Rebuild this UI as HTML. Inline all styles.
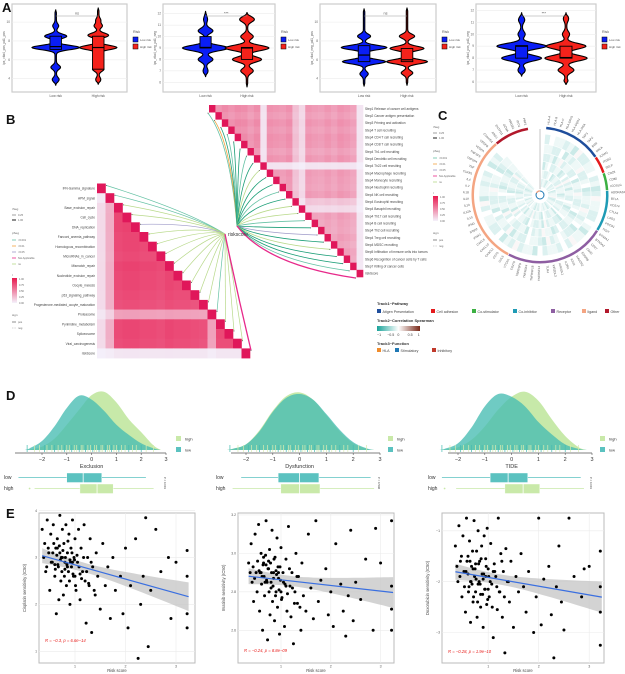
<!DOCTYPE html>
<html><head><meta charset="utf-8">
<style>
html,body{margin:0;padding:0;background:#fff;}
svg{display:block;font-family:"Liberation Sans",sans-serif;}
</style></head>
<body>
<svg id="fig" width="625" height="674" viewBox="0 0 625 674" xmlns="http://www.w3.org/2000/svg"></svg>
<script>
// ===================== DATA =====================
// Panel A
const aTitles = ["ips_ctla4_pos_pd1_pos","ips_ctla4_neg_pd1_neg","ips_ctla4_neg_pd1_pos","ips_ctla4_pos_pd1_neg"];
const aSig = ["ns","***","ns","***"];
const aDomains = [[3,11.5],[5.5,12.5],[3,11.5],[5.5,12.2]];
const aTicks = [[4,6,8,10],[6,7,8,9,10,11,12],[4,6,8,10],[6,7,8,9,10,11,12]];
const aLowRange = [[3.3,11.3],[6.5,12.2],[3.2,11.4],[6.5,11.8]];
const aHighRange = [[3.4,11.5],[5.6,12.1],[3.3,11.5],[5.8,11.8]];
const aLowPeaks = [
 [[3.9,.12],[5.2,.18],[7.3,1.0],[8.5,.45],[9.6,.1]],
 [[7.0,.08],[8.0,.3],[9.0,1.0],[10.5,.3],[11.5,.06]],
 [[4.5,.15],[5.8,.9],[7.3,.95],[8.5,.25]],
 [[7.0,.12],[8.0,.8],[9.0,1.0],[10.0,.12],[11.2,.1]]];
const aHighPeaks = [
 [[3.9,.08],[5.0,.22],[7.3,.78],[8.6,.42],[9.6,.15],[10.2,.08]],
 [[7.0,.25],[8.0,.62],[9.0,.95],[10.0,.25],[11.5,.3]],
 [[4.6,.22],[5.8,.85],[7.2,.7],[8.5,.3]],
 [[6.0,.06],[7.0,.3],[8.0,.85],[9.0,.8],[10.0,.12],[11.3,.08]]];
const aLowBox = [[7.1,7.4,8.5],[9.0,9.05,10.0],[5.8,6.5,7.5],[8.0,9.0,9.05]];
const aHighBox = [[5.0,7.3,8.5],[8.0,9.0,9.05],[5.8,6.0,7.2],[8.0,8.05,9.0]];

// Panel B
const upperLabels = ["Step1 Release of cancer cell antigens","Step2 Cancer antigen presentation","Step3 Priming and activation","Step4 T cell recruiting","Step4 CD4 T cell recruiting","Step4 CD8 T cell recruiting","Step4 Th1 cell recruiting","Step4 Dendritic cell recruiting","Step4 Th22 cell recruiting","Step4 Macrophage recruiting","Step4 Monocyte recruiting","Step4 Neutrophil recruiting","Step4 NK cell recruiting","Step4 Eosinophil recruiting","Step4 Basophil recruiting","Step4 Th17 cell recruiting","Step4 B cell recruiting","Step4 Th2 cell recruiting","Step4 Treg cell recruiting","Step4 MDSC recruiting","Step5 Infiltration of immune cells into tumors","Step6 Recognition of cancer cells by T cells","Step7 Killing of cancer cells","riskScore"];
const upperBase = [.68,.62,.7,.64,.7,.68,.6,.68,.1,.65,.62,.6,.66,.34,.18,.62,.58,.56,.62,.56,.64,.6,.54,.08];
const upperLineColors = ["#66c2a5","#f1a340","#1b9e77","#66c2a5","#1b9e77","#1b9e77","#66c2a5","#1b9e77","#b8d98a","#1b9e77","#1b9e77","#66c2a5","#1b9e77","#b8d98a","#b8d98a","#66c2a5","#1b9e77","#9e9ac8","#1b9e77","#b8d98a","#1b9e77","#1b9e77","#66c2a5","#e7298a"];
const lowerLabels = ["IFN-Gamma_signature","APM_signal","Base_excision_repair","Cell_cycle","DNA_replication","Fanconi_anemia_pathway","Homologous_recombination","MicroRNAs_in_cancer","Mismatch_repair","Nucleotide_excision_repair","Oocyte_meiosis","p53_signaling_pathway","Progesterone-mediated_oocyte_maturation","Proteasome","Pyrimidine_metabolism","Spliceosome","Viral_carcinogenesis","riskScore"];
const lowerBase = [.12,.35,.88,.9,.9,.88,.88,.86,.9,.88,.88,.86,.84,.42,.88,.88,.86,.06];
const lowerLineColors = ["#66c2a5","#66c2a5","#b8d98a","#b8d98a","#9e9ac8","#b8d98a","#b8d98a","#b8d98a","#b8d98a","#b8d98a","#b8d98a","#b8d98a","#b8d98a","#66c2a5","#b8d98a","#b8d98a","#b8d98a","#e7298a"];

// Panel C
const cCategories = ["Atigen Presentation","Cell adhesion","Co-stimulator","Co-inhibitor","Receptor","ligand","Other"];
const cCatColors = ["#1f4e9c","#e41a1c","#3cb043","#1f9bb5","#8e5ea2","#f4a582","#b2182b"];
const cGenes = [
 ["HLA-A","HLA-B","HLA-C","HLA-DPA1","HLA-DQA1","HLA-DRA","TAP1","TAP2","B2M","MICA"],
 ["ICAM1","ITGB2","SELP"],
 ["CD28","CD80","ICOSLG"],
 ["ADORA2A","BTLA","CD274","CTLA4","LAG3","PDCD1","TIGIT"],
 ["BTN3A1","BTN3A2","CD27","CD40","EDNRB","HAVCR2","ICOS","IL2RA","KIR2DL1","KIR2DL3","TLR4","TNFRSF14","TNFRSF18","TNFRSF4","TNFRSF9","CD276","VTCN1"],
 ["CCL5","CD70","CX3CL1","CXCL10","CXCL9","IFNA1","IFNA2","IFNG","IL10","IL12A","IL13","IL1A","IL1B","IL2","IL4","TGFB1","TNF","TNFSF4","TNFSF9","VEGFA","VEGFB","C10orf54"],
 ["ARG1","ENTPD1","GZMA","HMGB1","IDO1","PRF1"]];
const cRings = [
 "34432445334352344463234435432443445334234453634424533443234434",
 "43345234433634442345334435244334523443634424353445344234334534",
 "24533442353634244335423445233443624334523445362443345234433634",
 "33424634433524436433452344335324463435244334536244335423443244",
 "44335243446334523443643452334543623445334263443524334634452344",
 "35443426334453423644335424463534435244363425334453624434352435"];

// Panel D
const dTitles = ["Exclusion","Dysfunction","TIDE"];
const dPvals = ["P < 0.001","P = 0.548","P < 0.001"];
const dGrid = [-2.7,-2.5,-2,-1.5,-1,-0.5,0,0.5,1,1.5,2,2.5,2.8];
const dLowDens = [[0,.03,.16,.42,.75,.97,.9,.7,.45,.27,.12,.03,0],[0,.02,.1,.33,.68,.93,1.0,.9,.64,.36,.14,.03,0],[0,.02,.12,.4,.78,1.0,.95,.78,.5,.28,.1,.02,0]];
const dHighDens = [[0,.01,.06,.2,.45,.72,.98,1.04,.85,.55,.32,.08,0],[0,.02,.1,.35,.7,.96,1.03,.9,.62,.33,.12,.02,0],[0,.01,.05,.18,.42,.72,.95,1.04,.88,.55,.25,.05,0]];
const dLowBox = [[-2.95,-1.0,-0.34,0.41,2.19],[-2.18,-0.8,0,0.72,2.65],[-2.6,-0.8,-0.13,0.6,2.58]];
const dHighBox = [[-2.3,-0.47,0.22,0.87,2.5],[-2.5,-0.7,0,0.76,2.78],[-2.07,-0.25,0.43,1.05,2.7]];
const dHighOutlier = [-2.5,null,-2.5];
const dRug = [-2.6,-2.3,-2.1,-1.9,-1.8,-1.6,-1.5,-1.35,-1.2,-1.1,-1.0,-0.9,-0.8,-0.7,-0.6,-0.5,-0.42,-0.35,-0.25,-0.15,-0.05,0.05,0.12,0.2,0.3,0.38,0.45,0.55,0.65,0.72,0.8,0.9,1.0,1.1,1.2,1.35,1.5,1.65,1.8,2.0,2.2,2.5];
const dTicks = [-2,-1,0,1,2,3];

// Panel E
const riskScores = [0.35,0.4,0.42,0.45,0.48,0.5,0.52,0.55,0.57,0.6,0.62,0.63,0.65,0.67,0.7,0.72,0.73,0.75,0.77,0.78,0.8,0.82,0.83,0.85,0.87,0.88,0.9,0.92,0.93,0.95,0.97,0.98,1.0,1.02,1.05,1.07,1.1,1.12,1.15,1.18,1.2,1.22,1.25,1.28,1.3,1.33,1.35,1.4,1.42,1.45,1.5,1.55,1.6,1.65,1.7,1.75,1.8,1.9,1.95,2.0,2.05,2.1,2.2,2.25,2.3,2.35,2.4,2.45,2.5,2.6,2.7,2.85,2.9,3.0,3.22,3.22,3.22,3.22,0.58,0.68,
 0.38,0.44,0.47,0.53,0.56,0.61,0.64,0.66,0.69,0.71,0.74,0.76,0.79,0.81,0.84,0.86,0.89,0.91,0.94,0.96,0.99,1.01,1.04,1.08,1.13,1.17,1.23,1.27,1.32,1.38,0.6,0.7,0.8,0.9,1.0,0.75,0.85,0.95,0.65,1.1];
const cisplatin = [3.6,3.3,2.7,3.8,3.1,2.3,3.5,2.9,3.7,2.6,3.2,1.8,3.4,2.8,3.9,2.5,3.0,3.6,2.2,3.3,2.9,3.7,2.4,3.1,2.7,3.5,2.0,3.2,2.8,3.8,2.6,3.0,3.4,2.3,2.9,3.6,2.1,3.2,2.7,3.7,2.5,1.6,3.0,2.4,3.4,1.4,2.8,2.2,3.1,2.6,1.9,3.3,2.4,2.8,1.7,3.0,2.3,2.6,1.8,3.2,1.5,2.4,3.4,0.85,2.0,2.6,3.85,1.1,2.3,3.6,2.7,3.0,1.7,2.9,3.15,2.6,1.8,1.5,3.3,2.1,
 3.0,2.8,3.2,2.9,3.1,2.75,3.05,2.85,3.25,2.95,2.7,3.15,2.6,3.0,2.85,3.35,2.5,2.9,3.1,2.65,2.95,2.4,3.05,2.8,2.55,3.0,2.7,2.45,2.9,2.3,2.85,3.1,2.75,2.95,2.6,3.0,2.8,2.9,3.2,2.65];
const imatinib = [2.95,3.05,2.85,2.75,3.1,2.9,2.8,3.15,2.7,3.0,2.88,2.6,2.95,2.78,3.17,2.85,2.55,2.92,3.02,2.68,2.82,3.12,2.75,2.9,2.65,2.98,2.8,3.08,2.72,2.87,2.58,2.93,3.03,2.77,2.85,2.62,2.97,2.7,3.14,2.83,2.67,2.9,2.53,2.8,3.0,2.74,2.88,2.6,2.95,2.78,2.7,3.1,2.82,2.66,3.17,2.75,2.86,2.92,2.68,2.8,2.62,3.05,2.84,2.7,2.57,2.78,3.12,2.65,2.85,2.76,2.97,2.6,3.13,2.95,3.17,2.83,2.71,2.6,2.9,2.85,
 2.9,2.93,2.87,2.96,2.91,2.84,2.94,2.88,2.99,2.86,2.92,2.8,2.95,2.9,2.83,2.97,2.78,2.89,2.93,2.81,2.86,2.76,2.9,2.84,2.79,2.92,2.82,2.74,2.88,2.72,2.9,2.94,2.85,2.91,2.8,2.96,2.87,2.9,2.98,2.83];
const doxorubicin = [-1.3,-2.0,-0.9,-1.6,-2.3,-1.1,-1.8,-2.6,-0.75,-1.5,-2.1,-1.2,-2.8,-1.7,-2.4,-0.8,-1.9,-2.2,-1.4,-2.7,-1.0,-2.0,-1.6,-2.5,-1.3,-1.85,-2.9,-1.1,-2.15,-1.55,-2.45,-0.95,-1.75,-2.3,-1.25,-2.05,-3.1,-1.65,-1.9,-2.55,-0.75,-2.2,-1.45,-2.7,-1.8,-3.4,-1.35,-2.0,-2.4,-1.6,-2.9,-1.9,-2.2,-1.45,-2.1,-2.6,-1.8,-3.0,-2.3,-0.75,-2.85,-1.95,-1.7,-2.65,-3.5,-2.1,-1.3,-2.4,-2.95,-0.75,-1.9,-2.3,-1.75,-1.7,-1.4,-2.1,-2.6,-3.25,-1.6,-2.05,
 -1.7,-1.9,-1.5,-2.1,-1.8,-2.2,-1.6,-2.0,-1.4,-2.3,-1.75,-1.95,-2.4,-1.65,-2.05,-1.55,-2.25,-1.85,-2.15,-1.7,-2.35,-1.9,-2.0,-2.5,-1.8,-2.1,-2.2,-1.6,-2.3,-2.0,-1.85,-1.75,-2.05,-1.95,-2.15,-1.65,-2.25,-1.9,-2.0,-1.8];
const eYTitles = ["Cisplatin sensitivity (IC50)","Imatinib sensitivity (IC50)","Doxorubicin sensitivity (IC50)"];
const eStats = ["R = \u22120.3, p = 6.6e\u221214","R = \u22120.24, p = 8.8e\u221209","R = \u22120.28, p = 1.9e\u221210"];
const eDomains = [[0.75,3.95],[2.43,3.21],[-3.6,-0.65]];
const eYTicks = [[1,2,3,4],[2.6,2.8,3.0,3.2],[-3,-2,-1]];
const eXTicks = [1,2,3];

// ===================== DRAW =====================
const NS="http://www.w3.org/2000/svg";
const svg=document.getElementById('fig');
function el(tag,attrs,parent){const e=document.createElementNS(NS,tag);for(const k in attrs)e.setAttribute(k,attrs[k]);(parent||svg).appendChild(e);return e;}
function txt(s,x,y,size,parent,extra){const t=el('text',Object.assign({x:x,y:y,'font-size':size,fill:'#333'},extra||{}),parent);t.textContent=s;return t;}
function grp(parent){return el('g',{},parent);}
function catmull(pts){let d='M'+pts[0][0]+','+pts[0][1];for(let i=0;i<pts.length-1;i++){const p0=pts[i-1]||pts[i],p1=pts[i],p2=pts[i+1],p3=pts[i+2]||p2;
 d+=' C'+(p1[0]+(p2[0]-p0[0])/6)+','+(p1[1]+(p2[1]-p0[1])/6)+' '+(p2[0]-(p3[0]-p1[0])/6)+','+(p2[1]-(p3[1]-p1[1])/6)+' '+p2[0]+','+p2[1];}return d;}

// panel letters
[["A",2,12],["B",6,124],["C",438,120],["D",6,400],["E",6,518]].forEach(l=>{
 const t=txt(l[0],l[1],l[2],13,svg,{'font-weight':'bold',fill:'#111'});
 
 
});

// ---------- Panel A ----------
const aBoxes=[[12,127],[163,275],[320,436],[476,596]];
aBoxes.forEach((bx,p)=>{
 const g=grp();
 
 
 const x0=bx[0],x1=bx[1],W=x1-x0,yT=4,yB=92;
 const dom=aDomains[p];
 const ys=v=>yB-4-(v-dom[0])/(dom[1]-dom[0])*(yB-yT-8);
 el('rect',{x:x0,y:yT,width:W,height:yB-yT,fill:'#fff',stroke:'#ccc','stroke-width':1.2},g);
 aTicks[p].forEach(t=>{el('line',{x1:x0,x2:x1,y1:ys(t),y2:ys(t),stroke:'#ececec','stroke-width':0.6},g);
  txt(String(t),x0-2,ys(t)+1,3.2,g,{'text-anchor':'end',fill:'#666'});});
 const yt=txt(aTitles[p],x0-7,(yT+yB)/2,3.2,g,{'text-anchor':'middle',fill:'#555',transform:'rotate(-90 '+(x0-7)+' '+((yT+yB)/2)+')'});
 
 
 const cx=[x0+0.38*W,x0+0.75*W];
 const maxW=0.2*W;
 [[aLowPeaks[p],aLowRange[p],aLowBox[p],'#0a1ef5'],[aHighPeaks[p],aHighRange[p],aHighBox[p],'#f5221b']].forEach((d,k)=>{
  const peaks=d[0],rng=d[1],box=d[2],col=d[3];
  const L=[],R=[];
  for(let v=rng[0];v<=rng[1]+1e-6;v+=0.05){
   let w=0.03;peaks.forEach(pk=>{w+=pk[1]*Math.exp(-Math.pow((v-pk[0])/0.32,2));});
   const tap=Math.min(1,(v-rng[0])/0.3,(rng[1]-v)/0.3);w*=Math.max(0.05,tap);
   L.push([cx[k]-w*maxW,ys(v)]);R.push([cx[k]+w*maxW,ys(v)]);}
  const pts=L.concat(R.reverse());
  const vp=el('path',{d:'M'+pts.map(q=>q[0].toFixed(2)+','+q[1].toFixed(2)).join(' L')+'Z',fill:col,stroke:'#000','stroke-width':1.1},g);
  
  
  const bw=0.1*W;
  const br=el('rect',{x:cx[k]-bw/2,y:ys(box[2]),width:bw,height:Math.max(1,ys(box[0])-ys(box[2])),fill:col,stroke:'#000','stroke-width':0.9},g);
  
  
  el('line',{x1:cx[k]-bw/2,x2:cx[k]+bw/2,y1:ys(box[1]),y2:ys(box[1]),stroke:'#000','stroke-width':1.2},g);
  txt(k?'High risk':'Low risk',cx[k],97,3.4,g,{'text-anchor':'middle',fill:'#555'});
 });
 el('line',{x1:cx[0],x2:cx[1],y1:16,y2:16,stroke:'#999','stroke-width':0.6},g);
 const sg=txt(aSig[p],(cx[0]+cx[1])/2,14.5,3.8,g,{'text-anchor':'middle',fill:'#555'});
 
 
 const lg=grp(g);
 
 
 txt('Risk',x1+6,33,3.6,lg,{fill:'#555'});
 el('rect',{x:x1+6,y:37,width:5,height:5,fill:'#0a1ef5',stroke:'#000','stroke-width':0.5},lg);
 txt('Low risk',x1+13,41,3,lg,{fill:'#555'});
 el('rect',{x:x1+6,y:44,width:5,height:5,fill:'#f5221b',stroke:'#000','stroke-width':0.5},lg);
 txt('High risk',x1+13,48,3,lg,{fill:'#555'});
});

// ---------- Panel B ----------
function pinkCol(t){t=Math.max(0,Math.min(1,t));const a=[244,241,251],b=[232,25,79];
 return 'rgb('+a.map((c,i)=>Math.round(c+(b[i]-c)*t)).join(',')+')';}
const gB=grp();


const U={x0:209,y0:105,cw:154/24,ch:172/24};
const gU=grp(gB);


upperLabels.forEach((lab,i)=>{
 upperLabels.forEach((l2,j)=>{
  if(j<i)return;
  const v=i===j?1.1:upperBase[i]*upperBase[j];
  const c=el('rect',{x:U.x0+j*U.cw,y:U.y0+i*U.ch,width:U.cw+0.3,height:U.ch+0.3,fill:i===j?'#e0175a':pinkCol(v)},gU);
  
  
 });
 const t=txt(lab,U.x0+24*U.cw+2,U.y0+(i+0.5)*U.ch+1.2,3.2,gU,{fill:'#444'});
 
 
});
const Lw={x0:97,y0:183.5,cw:8.5,ch:9.7};
const gL=grp(gB);


lowerLabels.forEach((lab,i)=>{
 lowerLabels.forEach((l2,j)=>{
  if(j>i)return;
  const v=i===j?1.1:lowerBase[i]*lowerBase[j];
  const c=el('rect',{x:Lw.x0+j*Lw.cw,y:Lw.y0+i*Lw.ch,width:Lw.cw+0.3,height:Lw.ch+0.3,fill:i===j?'#e0175a':pinkCol(v)},gL);
  
  
 });
 const t=txt(lab,Lw.x0-2,Lw.y0+(i+0.5)*Lw.ch+1.2,3.2,gL,{fill:'#444','text-anchor':'end'});
 
 
});
const oU=[237,226],oL=[225,234];
upperLabels.forEach((lab,i)=>{
 const tx=U.x0+i*U.cw-1,ty=U.y0+(i+1)*U.ch+1;
 const cp=[oU[0]*0.75+tx*0.25,ty*0.75+oU[1]*0.25];
 const last=i===upperLabels.length-1;
 const pth=el('path',{d:'M'+oU[0]+','+oU[1]+' Q'+cp[0]+','+cp[1]+' '+tx+','+ty,fill:'none',stroke:upperLineColors[i],'stroke-width':last?1.3:0.8},gB);
 
 
 el('circle',{cx:tx,cy:ty,r:0.5,fill:'#555'},gB);
});
lowerLabels.forEach((lab,i)=>{
 const tx=Lw.x0+(i+1)*Lw.cw+1,ty=Lw.y0+i*Lw.ch+2;
 const last=i===lowerLabels.length-1;
 const cp=last?[oL[0]+12,(oL[1]+ty)/2]:[oL[0]*0.7+tx*0.3,oL[1]*0.7+ty*0.3-8];
 const pth=el('path',{d:'M'+oL[0]+','+oL[1]+' Q'+cp[0]+','+cp[1]+' '+tx+','+ty,fill:'none',stroke:lowerLineColors[i],'stroke-width':last?1.3:0.7},gB);
 
 
 el('circle',{cx:tx,cy:ty,r:0.5,fill:'#555'},gB);
});
const rsl=txt('riskscore',228,236,5,gB,{fill:'#333'});


function smallLegend(x,y,parent){
 const g=grp(parent);
 
 
 txt('rSeg',x,y,3,g,{fill:'#666'});
 [[0.5,'0.25'],[1.2,'1.00']].forEach((s,k)=>{el('line',{x1:x,x2:x+4,y1:y+5+k*5,y2:y+5+k*5,stroke:'#444','stroke-width':s[0]},g);txt(s[1],x+6,y+6+k*5,2.6,g,{fill:'#666'});});
 txt('pSeg',x,y+24,3,g,{fill:'#666'});
 [['#66c2a5','<0.001'],['#f1a340','<0.01'],['#9e9ac8','<0.05'],['#e7298a','Not Applicable'],['#b8d98a','ns']].forEach((s,k)=>{el('line',{x1:x,x2:x+4,y1:y+30+k*6,y2:y+30+k*6,stroke:s[0],'stroke-width':0.8},g);txt(s[1],x+6,y+31+k*6,2.6,g,{fill:'#666'});});
 txt('r',x,y+66,3,g,{fill:'#666'});
 const gradId='pg'+Math.round(x);
 const lgd=el('linearGradient',{id:gradId,x1:0,y1:1,x2:0,y2:0},g);
 el('stop',{offset:0,'stop-color':'#f4f1fb'},lgd);el('stop',{offset:1,'stop-color':'#e8194f'},lgd);
 el('rect',{x:x,y:y+68,width:5,height:25,fill:'url(#'+gradId+')'},g);
 ['1.00','0.75','0.50','0.25','0.00'].forEach((s,k)=>txt(s,x+7,y+70+k*6,2.5,g,{fill:'#666'}));
 txt('sign',x,y+106,3,g,{fill:'#666'});
 txt('pos',x+6,y+113,2.6,g,{fill:'#666'});el('line',{x1:x,x2:x+4,y1:y+112,y2:y+112,stroke:'#444','stroke-width':0.6},g);
 txt('neg',x+6,y+119,2.6,g,{fill:'#666'});el('line',{x1:x,x2:x+4,y1:y+118,y2:y+118,stroke:'#aaa','stroke-width':0.6,'stroke-dasharray':'1 0.6'},g);
}
smallLegend(12,210,gB);
smallLegend(433,128,svg);

// ---------- Panel C ----------
const gC=grp();


const C={x:540,y:195};
const allGenes=[],geneCat=[];
cGenes.forEach((lst,k)=>lst.forEach(g=>{allGenes.push(g);geneCat.push(k);}));
const aStart=5,aEnd=350,nG=allGenes.length,step=(aEnd-aStart)/nG;
function pol(r,deg){const a=(deg-90)*Math.PI/180;return [C.x+r*Math.cos(a),C.y+r*Math.sin(a)];}
function sector(r0,r1,d0,d1){const p1=pol(r1,d0),p2=pol(r1,d1),p3=pol(r0,d1),p4=pol(r0,d0);const lg=(d1-d0)>180?1:0;
 return 'M'+p1+' A'+r1+','+r1+' 0 '+lg+' 1 '+p2+' L'+p3+' A'+r0+','+r0+' 0 '+lg+' 0 '+p4+'Z';}
function divCol(v){v=Math.max(-1,Math.min(1,v));const w=[255,255,255],n=[26,163,154],p=[122,42,26];const t=Math.abs(v),c=v<0?n:p;
 return 'rgb('+w.map((x,i)=>Math.round(x+(c[i]-x)*t)).join(',')+')';}
const ringR=[8,16.5,25,33.5,42,51,61];
cRings.forEach((s,ri)=>{
 const gr=grp(gC);
 
 
 for(let i=0;i<nG;i++){
  const d=parseInt(s.charAt(i)||'5',10);const v=(d-5)/5;
  const c=el('path',{d:sector(ringR[ri]+0.3,ringR[ri+1]-0.3,aStart+i*step,aStart+(i+1)*step),fill:divCol(v<0?v*0.38:v*0.18),stroke:'none'},gr);
  
  
 }
});
cCategories.forEach((cat,k)=>{
 const i0=geneCat.indexOf(k),i1=geneCat.lastIndexOf(k)+1;
 const a=el('path',{d:sector(66,68.5,aStart+i0*step+0.3,aStart+i1*step-0.3),fill:cCatColors[k]},gC);
 
 
});
allGenes.forEach((g,i)=>{
 const ang=aStart+(i+0.5)*step;const p=pol(71,ang);
 const right=ang<180;
 const rot=right?ang-90:ang+90;
 const t=txt(g,p[0],p[1],3,gC,{fill:'#555','text-anchor':right?'start':'end',transform:'rotate('+rot+' '+p[0]+' '+p[1]+')'});
 
 
});
el('line',{x1:C.x,y1:C.y-6,x2:C.x,y2:C.y-66,stroke:'#888','stroke-width':0.5},gC);
el('circle',{cx:C.x,cy:C.y,r:4,fill:'none',stroke:'#1f78b4','stroke-width':1},gC);
el('path',{d:sector(3.5,4.8,300,360),fill:'#f4a582'},gC);
const gT=grp();


txt('Track1~Pathway',377,305,4,gT,{'font-weight':'bold',fill:'#333'});
const t1x=[377,431,472,513,551,582,605];
cCategories.forEach((c,k)=>{el('rect',{x:t1x[k],y:309,width:4,height:4,fill:cCatColors[k]},gT);
 const t=txt(c,t1x[k]+5.5,313,3.6,gT,{fill:'#444'});
 
 });
txt('Track2~Correlation Spearman',377,322,4,gT,{'font-weight':'bold',fill:'#333'});
const lg2=el('linearGradient',{id:'divg',x1:0,x2:1,y1:0,y2:0},gT);
[['0','#1aa39a'],['0.5','#ffffff'],['1','#7a2a1a']].forEach(s=>el('stop',{offset:s[0],'stop-color':s[1]},lg2));
el('rect',{x:377,y:326,width:43,height:5,fill:'url(#divg)'},gT);
['\u22121','\u22120.5','0','0.5','1'].forEach((s,k)=>txt(s,377+k*10.2,336,3.6,gT,{fill:'#444'}));
txt('Track3~Function',377,345,4,gT,{'font-weight':'bold',fill:'#333'});
[['HLA','#f08c2b',377],['Stimulatory','#1f78b4',395],['Inhibitory','#c0392b',432]].forEach(s=>{
 el('rect',{x:s[2],y:348,width:4,height:4,fill:s[1]},gT);
 const t=txt(s[0],s[2]+5.5,352,3.6,gT,{fill:'#444'});
 
 });

// ---------- Panel D ----------
const dZero=[91.6,299.6,511.6],dUnit=[24.8,26.8,26.8],dAxisStart=[15,231,448];
const dLegX=[176,388,600],dLabX=[4,216,428];
const base=450,dScale=56;
dTitles.forEach((title,p)=>{
 const g=grp();
 
 
 const xs=v=>dZero[p]+v*dUnit[p];
 [[dHighDens[p],'rgba(193,231,160,0.9)','density-high'],[dLowDens[p],'rgba(70,188,178,0.78)','density-low']].forEach(d=>{
  const pts=dGrid.map((x,i)=>[xs(x),base-d[0][i]*dScale]);
  const path=catmull(pts)+' L'+xs(dGrid[dGrid.length-1])+','+base+' L'+xs(dGrid[0])+','+base+'Z';
  const e=el('path',{d:path,fill:d[1],stroke:'none'},g);
  
  
 });
 dRug.forEach((v,i)=>{el('line',{x1:xs(v),x2:xs(v),y1:445,y2:452,stroke:i%3===0?'#46bcb2':'#d9ecb0','stroke-width':0.7},g);});
 el('line',{x1:dAxisStart[p],x2:xs(3),y1:453,y2:453,stroke:'#555','stroke-width':0.8},g);
 dTicks.forEach(t=>{el('line',{x1:xs(t),x2:xs(t),y1:453,y2:455,stroke:'#555','stroke-width':0.6},g);
  txt(t<0?'\u2212'+(-t):String(t),xs(t),461,5.5,g,{'text-anchor':'middle',fill:'#333'});});
 const tt=txt(title,xs(0),468,5.5,g,{'text-anchor':'middle',fill:'#333'});
 
 
 const lg=grp(g);
 
 
 el('rect',{x:dLegX[p],y:436,width:5,height:5,fill:'#c9e9a9'},lg);txt('high',dLegX[p]+9,440.5,4,lg);
 el('rect',{x:dLegX[p],y:447,width:5,height:5,fill:'#5bc2c0'},lg);txt('low',dLegX[p]+9,451.5,4,lg);
 [[dLowBox[p],473,'#5bc2c0','low'],[dHighBox[p],484,'#c9e9a9','high']].forEach(b=>{
  const v=b[0],y=b[1];
  txt(b[3],dLabX[p],y+6,5,g,{fill:'#333'});
  el('line',{x1:xs(v[0]),x2:xs(v[4]),y1:y+4.5,y2:y+4.5,stroke:b[2],'stroke-width':0.8},g);
  const r=el('rect',{x:xs(v[1]),y:y,width:xs(v[3])-xs(v[1]),height:9.5,fill:b[2],stroke:'#fff','stroke-width':0.4},g);
  
  
  el('line',{x1:xs(v[2]),x2:xs(v[2]),y1:y,y2:y+9.5,stroke:'#fff','stroke-width':0.8},g);
 });
 if(dHighOutlier[p]!==null)el('circle',{cx:xs(dHighOutlier[p]),cy:488.5,r:0.9,fill:'#c9e9a9'},g);
 const pv=txt(dPvals[p],xs(3)-2,483,2.8,g,{'text-anchor':'middle',fill:'#333',transform:'rotate(90 '+(xs(3)-2)+' 483)'});
 
 
});

// ---------- Panel E ----------
const eBoxes=[[39,195],[238,394],[442,604]];
const eXZero=[24.5,231.2,437.7],eXUnit=[50.5,49.8,50.5];
const eSeries=[cisplatin,imatinib,doxorubicin];
eBoxes.forEach((bx,p)=>{
 const g=grp();
 
 
 const x0=bx[0],x1=bx[1],yT=513,yB=663;
 const dom=eDomains[p];
 const xs=v=>eXZero[p]+v*eXUnit[p];
 const ys=v=>yB-(v-dom[0])/(dom[1]-dom[0])*(yB-yT);
 el('rect',{x:x0,y:yT,width:x1-x0,height:yB-yT,fill:'#fff',stroke:'#bbb','stroke-width':1},g);
 eXTicks.forEach(t=>{el('line',{x1:xs(t),x2:xs(t),y1:yT,y2:yB,stroke:'#ebebeb','stroke-width':0.6},g);
  txt(String(t),xs(t),yB+4.5,3.6,g,{'text-anchor':'middle',fill:'#555'});});
 eYTicks[p].forEach(t=>{el('line',{x1:x0,x2:x1,y1:ys(t),y2:ys(t),stroke:'#ebebeb','stroke-width':0.6},g);
  txt(t<0?'\u2212'+(-t):(p===1?t.toFixed(1):String(t)),x0-2,ys(t)+1.2,3.4,g,{'text-anchor':'end',fill:'#555'});});
 const ys_=eSeries[p];
 const n=Math.min(riskScores.length,ys_.length);
 let mx=0,my=0;for(let i=0;i<n;i++){mx+=riskScores[i];my+=ys_[i];}mx/=n;my/=n;
 let sxy=0,sxx=0;for(let i=0;i<n;i++){sxy+=(riskScores[i]-mx)*(ys_[i]-my);sxx+=(riskScores[i]-mx)**2;}
 const slope=sxy/sxx,icp=my-slope*mx;
 let sse=0;for(let i=0;i<n;i++)sse+=(ys_[i]-(icp+slope*riskScores[i]))**2;
 const se=Math.sqrt(sse/(n-2));
 const bandTop=[],bandBot=[];
 for(let x=0.35;x<=3.26;x+=0.1){const h=2*se*Math.sqrt(1/n+(x-mx)**2/sxx);bandTop.push([xs(x),ys(icp+slope*x+h)]);bandBot.push([xs(x),ys(icp+slope*x-h)]);}
 const band=bandTop.concat(bandBot.reverse());
 const bd=el('path',{d:'M'+band.map(q=>q[0].toFixed(1)+','+q[1].toFixed(1)).join(' L')+'Z',fill:'#c8c8c8',opacity:0.8},g);
 
 
 for(let i=0;i<n;i++){
  const c=el('circle',{cx:xs(riskScores[i]),cy:ys(ys_[i]),r:1.5,fill:'#000'},g);
  
  
 }
 const rl=el('line',{x1:xs(0.35),y1:ys(icp+slope*0.35),x2:xs(3.25),y2:ys(icp+slope*3.25),stroke:'#3a6fe0','stroke-width':1.2},g);
 
 
 const st=txt(eStats[p],x0+6,[642,652,653][p],4.2,g,{fill:'#e8201e','font-style':'italic'});
 
 
 const xt=txt('Risk score',(x0+x1)/2,672,4.2,g,{'text-anchor':'middle',fill:'#444'});
 
 
 const yx=x0-13,yy=(yT+yB)/2;
 const ytt=txt(eYTitles[p],yx,yy,4.2,g,{'text-anchor':'middle',fill:'#444',transform:'rotate(-90 '+yx+' '+yy+')'});
 
 
});
</script>
</body></html>
